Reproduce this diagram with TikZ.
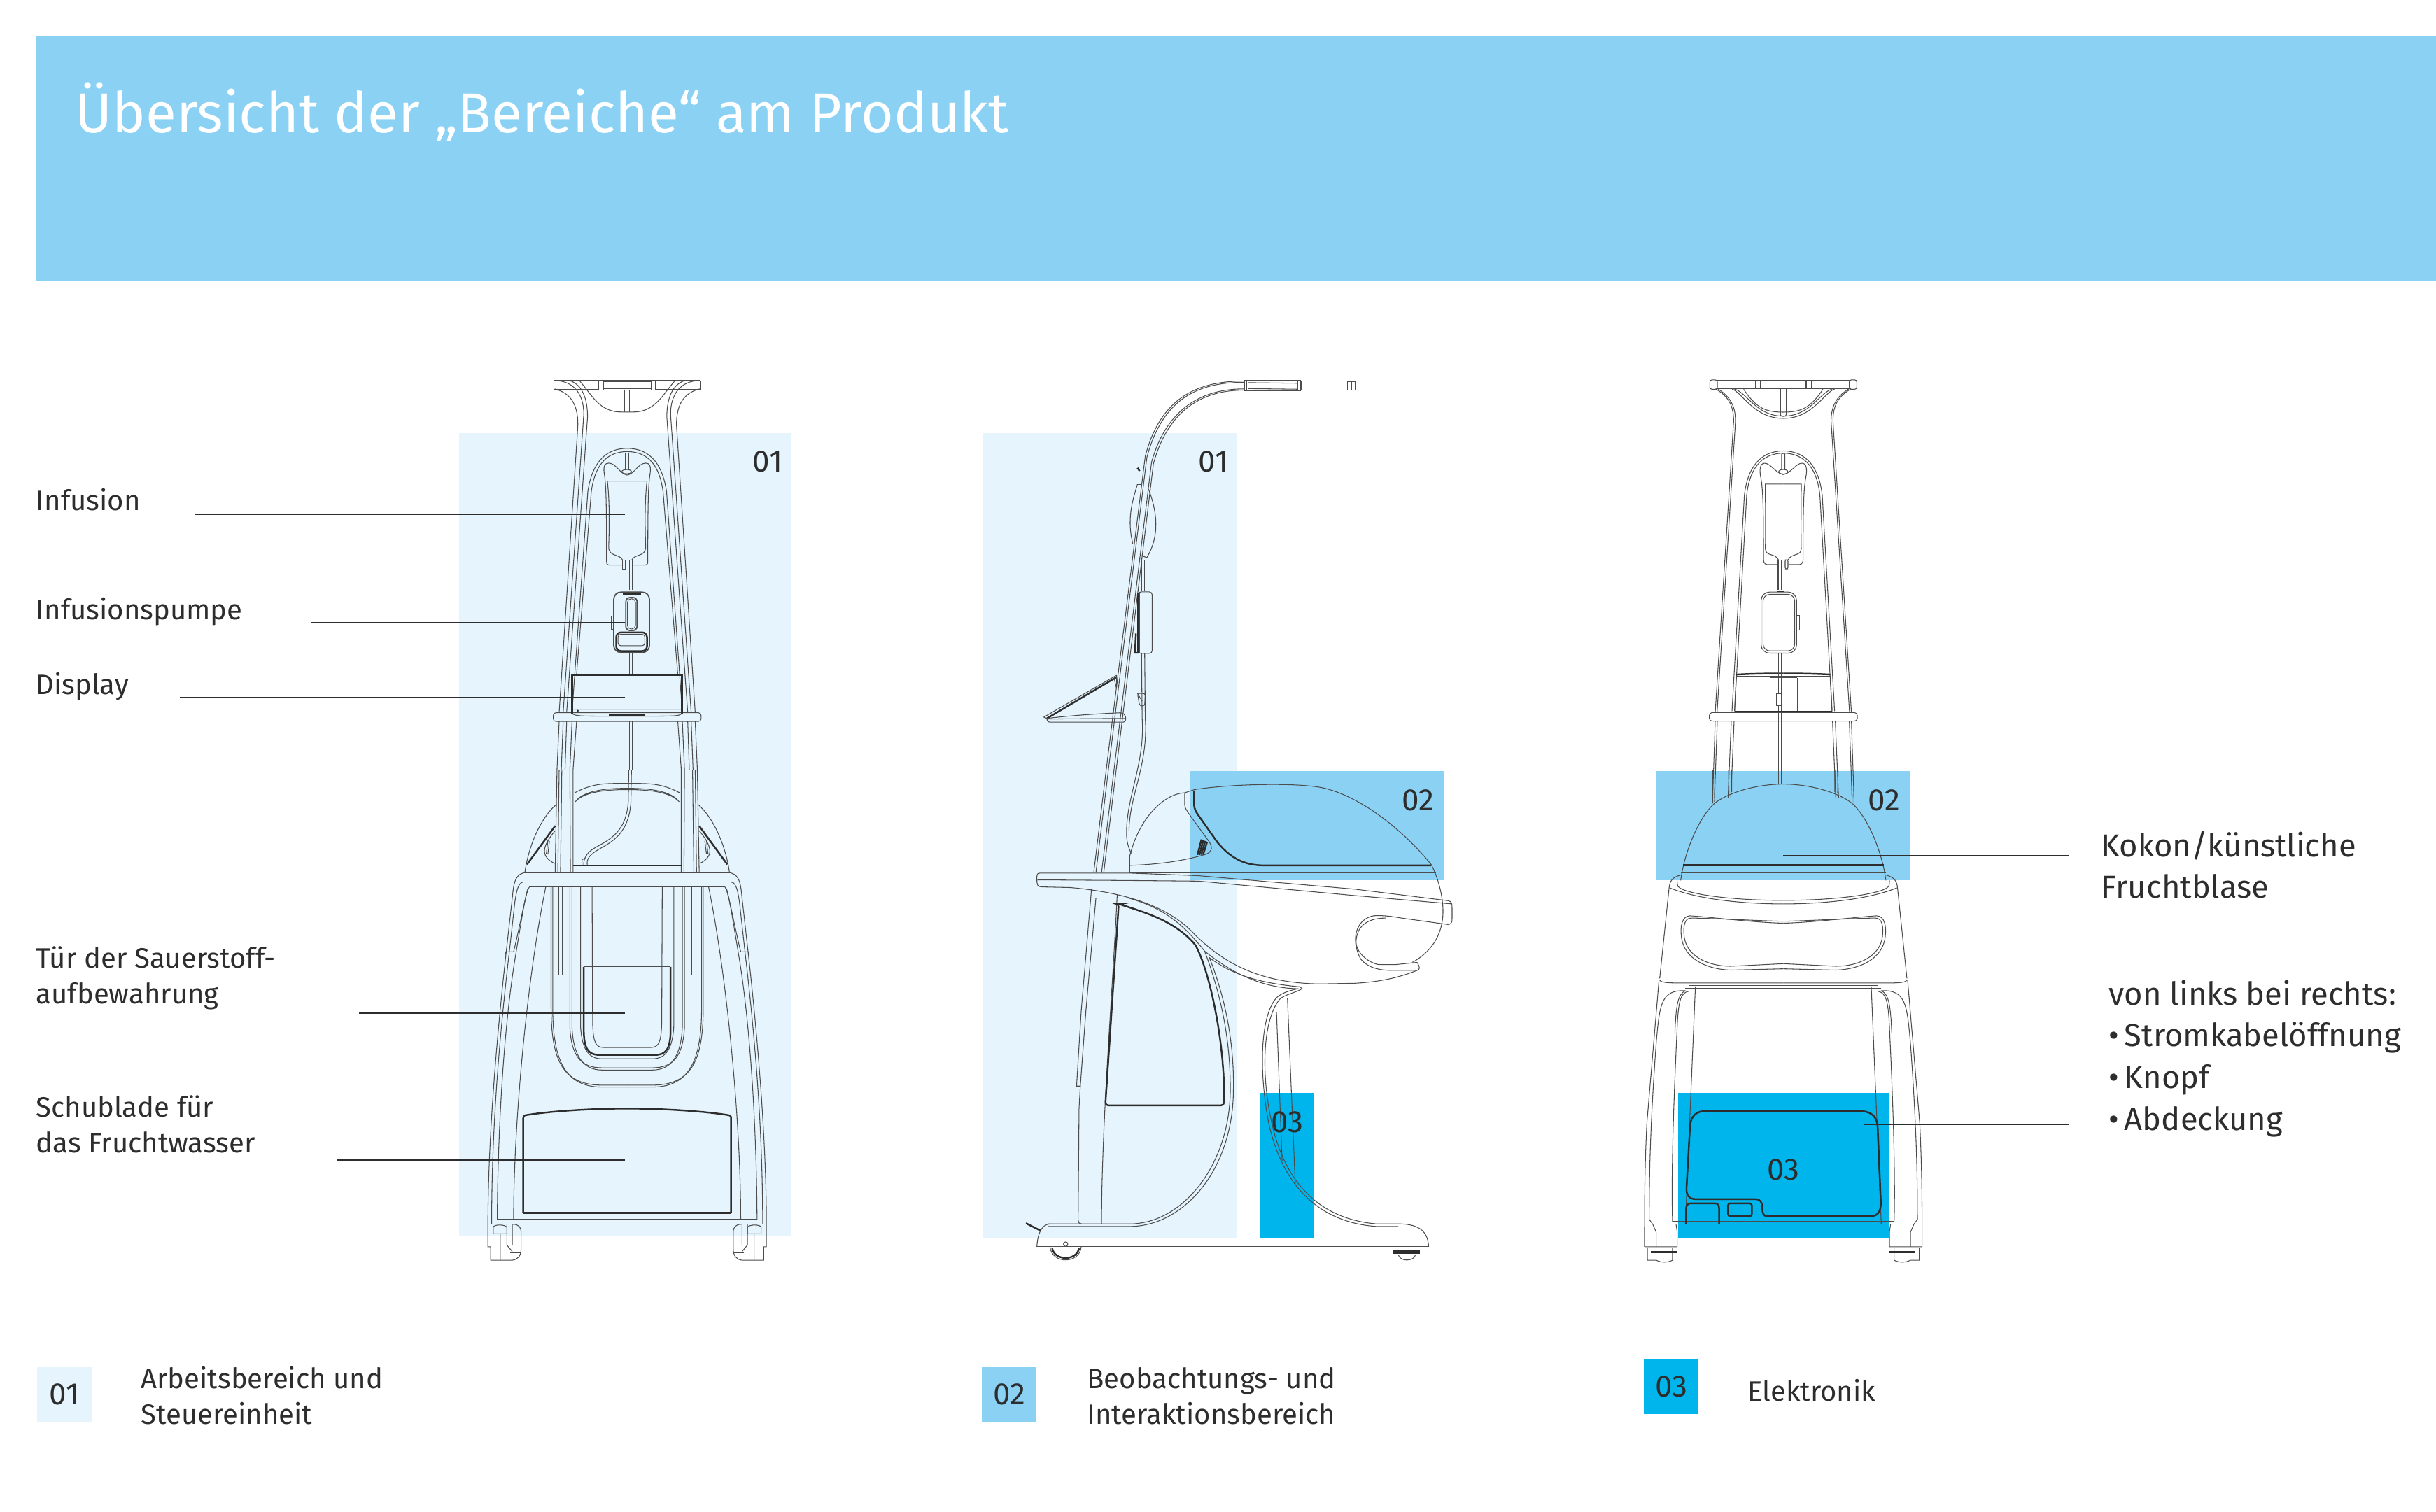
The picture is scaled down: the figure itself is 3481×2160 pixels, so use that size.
\documentclass[tikz,border=0pt]{standalone}
\usepackage{fontspec}
\setmainfont{Fira Sans}
\usetikzlibrary{positioning}
\definecolor{zoneone}{RGB}{229, 244, 253}
\definecolor{zonetwo}{RGB}{139, 209, 244}
\definecolor{zonethree}{RGB}{0, 181, 236}
\definecolor{inkdark}{RGB}{45, 45, 45}
\tikzset{
  wire/.style={draw=inkdark!85, line width=0.3pt},
  wirebold/.style={draw=inkdark, line width=0.7pt},
  leader/.style={draw=inkdark, line width=0.6pt},
  tag/.style={font=\fontsize{12.5}{15}\selectfont, text=inkdark, inner sep=0pt},
  caption/.style={font=\fontsize{11.4}{14.5}\selectfont, text=inkdark, anchor=west, align=left, inner sep=0pt},
  captionbig/.style={font=\fontsize{12.9}{17}\selectfont, text=inkdark, anchor=west, align=left, inner sep=0pt},
  keybox/.style={tag, minimum width=0.78cm, minimum height=0.78cm, fill=#1},
  viewAtop/.style={shift={(896.2,500)},xscale=#1*0.3827,yscale=0.3827,shift={(-774,0)}},
  viewAlow/.style={shift={(896.2,1100)},xscale=#1*0.3827,yscale=0.4591,shift={(-774,0)}},
  viewBtop/.style={shift={(1400,500)},scale=0.4464},
  viewBlow/.style={shift={(1400,1100)},xscale=0.4464,yscale=0.4591},
  viewCtop/.style={shift={(2548.3,500)},xscale=#1*0.3333,yscale=0.4082,shift={(-625,0)}},
  viewClow/.style={shift={(2548.3,1100)},xscale=#1*0.3333,yscale=0.4591,shift={(-625,0)}}
}
\begin{document}
\begin{tikzpicture}[x=0.01cm,y=-0.01cm]
\useasboundingbox (0,0) rectangle (3481,2160);

% Header
\fill[zonetwo] (51,51) rectangle (3481,402);
\node[font=\fontsize{22.8}{27}\selectfont, text=white, anchor=west, inner sep=0pt] (title) at (107,160) {Übersicht der „Bereiche“ am Produkt};

% Zones
\fill[zoneone] (656,619) rectangle (1131,1767);
\fill[zoneone] (1404,619) rectangle (1767,1769);
\fill[zonetwo] (1701,1102) rectangle (2064,1258);
\fill[zonethree] (1800,1562) rectangle (1877,1769);
\fill[zonetwo] (2367,1102) rectangle (2729,1258);
\fill[zonethree] (2398,1562) rectangle (2699,1769);

% Front view, mirrored halves
\foreach \s in {1,-1} {
  \begin{scope}[viewAtop=\s, wire]
    % Top of the pole
    \draw (503,146) .. controls (560,160) and (590,200) .. (590,280) -- (520,1355);
    \draw (510,115) .. controls (570,118) and (612,160) .. (612,240) -- (535,1355);
    \draw (560,115) .. controls (605,130) and (626,180) .. (626,250) -- (548,1355);
    \draw (500,115) -- (774,115) (500,148) -- (665,148) (500,115) -- (500,148);
    \draw (598,118) .. controls (640,165) and (670,232) .. (750,232) -- (774,232);
    \draw (668,115) -- (668,148) (685,115) -- (685,148) (685,118) -- (774,118) (685,145) -- (774,145);
    \draw (765,148) -- (765,232);
    % Inner arch
    \draw (774,368) .. controls (680,368) and (640,440) .. (627,530) -- (568,1355);
    \draw (774,380) .. controls (690,380) and (652,440) .. (640,530) -- (585,1213);
    \draw (585,1388) -- (572,1568) (568,1388) -- (560,1568);
    \draw (535,1388) -- (528,1568) (520,1388) -- (512,1568) (548,1388) -- (542,1568);
    % Bag
    \draw (774,468) .. controls (745,462) and (735,425) .. (705,423) .. controls (690,423) and (685,435) .. (688,460) .. controls (695,500) and (697,560) .. (697,790) .. controls (697,800) and (700,804) .. (710,804) -- (755,804);
    \draw (774,490) -- (700,490) .. controls (708,560) and (708,640) .. (705,735) .. controls (705,775) and (745,760) .. (757,785);
  \end{scope}
  \begin{scope}[viewAlow=\s, wire]
    \draw (512,0) -- (505,322) (520,0) -- (515,322) (530,0) -- (525,322);
    \draw (560,0) -- (562,322) (572,0) -- (572,322);
    % Hood behind the rail
    \draw (392,320) .. controls (405,240) and (450,150) .. (510,108);
    \draw[wirebold] (400,295) -- (505,175);
    \draw (505,190) .. controls (455,240) and (450,270) .. (503,292);
    \draw (472,262) -- (478,220) (478,262) -- (484,222);
    \draw (578,72) .. controls (650,40) and (700,43) .. (774,43);
    \draw (580,100) .. controls (610,72) and (680,62) .. (774,62) (585,95) .. controls (615,68) and (680,58) .. (774,58);
    \draw[wirebold] (572,298) -- (774,298);
    % Rim and flanks
    \draw (385,322) -- (774,322) (385,350) -- (774,350) (410,364) -- (774,364);
    \draw (385,322) .. controls (352,330) and (350,360) .. (345,400) -- (322,570) .. controls (285,850) and (255,1150) .. (254,1415);
    \draw (385,350) .. controls (365,352) and (360,385) .. (355,410) -- (335,560) .. controls (290,880) and (268,1150) .. (268,1415);
    \draw (410,364) .. controls (395,380) and (385,440) .. (355,590) .. controls (305,850) and (290,1200) .. (289,1400);
    \draw (403,370) .. controls (385,430) and (375,480) .. (350,567);
    \draw (470,365) .. controls (400,650) and (350,1100) .. (350,1400);
    \draw (318,578) -- (322,567) -- (355,567);
    % U-shaped recess
    \draw (490,365) -- (490,740) .. controls (490,900) and (530,982) .. (680,982) -- (774,982);
    \draw (496,365) -- (496,740) .. controls (496,895) and (535,988) .. (680,988) -- (774,988);
    \draw (560,365) -- (560,800) .. controls (565,890) and (600,928) .. (680,928) -- (774,928);
    \draw (568,365) -- (568,800) .. controls (572,885) and (605,935) .. (680,935) -- (774,935);
    \draw (600,365) -- (600,800) .. controls (605,870) and (630,900) .. (680,900) -- (774,900);
    \draw (643,365) -- (645,790) .. controls (648,850) and (655,865) .. (690,865) -- (774,865);
    \draw[wirebold] (612,614) -- (612,810) .. controls (612,870) and (630,888) .. (670,888) -- (774,888);
    \draw (612,614) -- (774,614);
    \draw (518,365) -- (518,640) -- (532,640) -- (532,365);
    % Drawer and base
    \draw[wirebold] (386,1380) -- (386,1085) .. controls (386,1078) and (390,1076) .. (400,1075) .. controls (500,1062) and (650,1055) .. (774,1055);
    \draw[wirebold] (386,1380) -- (774,1380);
    \draw (289,1400) -- (774,1400) (289,1415) -- (774,1415);
    % Caster
    \draw (254,1415) -- (254,1485) -- (264,1485) -- (264,1527) -- (345,1527) .. controls (365,1525) and (378,1515) .. (378,1490) -- (378,1440) .. controls (378,1425) and (370,1415) .. (345,1415);
    \draw (274,1445) -- (274,1425) .. controls (274,1415) and (320,1415) .. (325,1425) -- (325,1445) -- cycle;
    \draw (325,1415) -- (325,1480) -- (345,1500) (345,1415) -- (345,1480) (300,1445) -- (300,1527);
    \draw (335,1495) -- (365,1495) (338,1503) -- (380,1503) (338,1510) -- (365,1510);
  \end{scope}
}
\begin{scope}[viewAtop=1, wire]
  % Shelf and display
  \draw[rounded corners=0.04cm] (498,1355) rectangle (1050,1388);
  \draw (498,1378) -- (1050,1378);
  \draw[wirebold] (568,1358) -- (568,1215) -- (978,1215) -- (978,1358);
  \draw (568,1342) -- (978,1342) (568,1358) .. controls (580,1368) and (600,1368) .. (705,1368) -- (842,1368) .. controls (950,1368) and (970,1368) .. (978,1358);
  \draw[wirebold] (705,1364) -- (842,1364);
  \fill[inkdark] (590,1348) circle (4);
  % Hook, ports and tube
  \draw (768,385) -- (768,445) (780,385) -- (780,445) (768,385) -- (780,385);
  \draw (772,455) ellipse (18 and 8);
  \draw (757,785) rectangle (767,818);
  \draw (782,785) -- (782,895) (792,785) -- (792,895) (782,785) -- (792,785);
  \draw (782,1130) -- (782,1213) (792,1130) -- (792,1213) (782,1388) -- (782,1568) (792,1388) -- (792,1568);
  % Pump
  \draw[rounded corners=0.1cm, line width=0.5pt] (724,905) rectangle (857,1130);
  \draw[rounded corners=0.06cm, line width=0.5pt] (769,925) rectangle (811,1048);
  \draw[rounded corners=0.05cm] (775,930) rectangle (805,1042);
  \draw[wirebold, rounded corners=0.07cm] (733,1055) -- (733,1125) -- (848,1125) -- (848,1055) -- cycle;
  \draw[rounded corners=0.04cm] (740,1062) rectangle (840,1105);
  \fill[inkdark] (758,907) rectangle (825,915);
  \draw (714,995) rectangle (724,1045);
\end{scope}
\begin{scope}[viewAlow=1, wire]
  \draw (780,0) -- (778,100) .. controls (770,200) and (700,220) .. (650,245) .. controls (620,260) and (610,280) .. (612,298);
  \draw (790,0) -- (788,100) .. controls (780,210) and (700,230) .. (660,252) .. controls (630,268) and (622,280) .. (625,298);
  \draw (605,298) -- (605,280) -- (618,276);
\end{scope}

% Side view, upper part
\begin{scope}[viewBtop, wire]
  \draw (845,100) .. controls (700,100) and (580,150) .. (530,340) -- (405,1344) -- (365,1674);
  \draw (845,104) .. controls (700,104) and (585,155) .. (535,345) -- (412,1344) -- (372,1674);
  \draw (845,125) .. controls (720,125) and (600,180) .. (550,360) -- (430,1344) -- (390,1674);
  \draw (845,129) .. controls (720,129) and (605,185) .. (556,365) -- (437,1344) -- (397,1674);
  % Handle
  \draw (848,98) rectangle (1028,130);
  \draw (855,98) -- (855,130) (1018,98) -- (1018,130) (1030,100) rectangle (1178,128) (1030,122) -- (1178,122);
  \draw (858,105) -- (1018,107) (858,124) -- (1018,126);
  \draw (1178,102) rectangle (1202,128) (1190,102) -- (1190,128);
  % Bag and tube
  \draw (505,430) .. controls (490,480) and (470,540) .. (490,620);
  \draw (540,445) .. controls (565,510) and (580,590) .. (535,665) -- (515,658);
  \draw (505,432) -- (518,432);
  \draw[wirebold] (505,378) -- (512,388);
  \draw (518,675) -- (518,770) (528,675) -- (528,770);
  \draw[rounded corners=0.04cm] (507,775) rectangle (552,972);
  \draw (512,775) -- (512,972);
  \draw[wirebold] (500,908) -- (497,970) -- (507,970) (507,780) -- (507,970);
  \draw (518,972) -- (520,1180) .. controls (530,1320) and (470,1430) .. (470,1545) .. controls (470,1575) and (475,1590) .. (485,1612);
  \draw (528,972) -- (530,1180) .. controls (540,1330) and (478,1430) .. (478,1540);
  \draw[rounded corners=0.03cm] (505,1100) -- (530,1100) -- (528,1140) -- (512,1140) -- cycle;
  \draw (505,1100) -- (520,1125);
  % Tray
  \draw (205,1176) -- (438,1042);
  \draw[wirebold] (215,1180) -- (438,1048);
  \draw (430,1050) -- (438,1085) (438,1042) -- (438,1080);
  \draw (205,1176) -- (215,1180) .. controls (300,1170) and (380,1165) .. (450,1162) .. controls (470,1162) and (472,1190) .. (460,1192) -- (225,1192) .. controls (215,1192) and (215,1185) .. (215,1180);
  \draw (215,1182) -- (468,1180);
\end{scope}

% Side view, lower part
\begin{scope}[viewBlow, wire]
  % Hood
  \draw (480,322) -- (480,270) .. controls (510,150) and (590,75) .. (656,72) -- (688,62) .. controls (800,45) and (1000,40) .. (1090,55) .. controls (1200,75) and (1340,170) .. (1445,295) .. controls (1470,340) and (1483,400) .. (1483,440) .. controls (1483,520) and (1440,570) .. (1385,600);
  \draw[wirebold] (686,65) -- (686,105) .. controls (686,125) and (695,135) .. (700,142) -- (760,225) .. controls (810,285) and (860,298) .. (910,298) -- (1445,298);
  \draw (656,72) -- (656,105) .. controls (656,120) and (662,125) .. (668,135) -- (735,225) .. controls (748,245) and (740,258) .. (725,263) .. controls (650,285) and (570,295) .. (482,298);
  \foreach \h in {0,6,12,18} {\draw[wirebold] (697+\h,265) -- (710+\h,217+\h*0.4);}
  \draw (482,322) -- (1460,322) (482,328) -- (1460,328);
  % Table
  \draw (195,322) -- (480,322) -- (700,330) -- (1200,372) -- (1500,408) .. controls (1512,410) and (1512,420) .. (1512,430) -- (1512,465) .. controls (1512,480) and (1505,482) .. (1498,482) -- (1350,462) .. controls (1310,455) and (1280,453) .. (1260,455) .. controls (1205,465) and (1185,530) .. (1220,590) .. controls (1250,625) and (1300,625) .. (1330,625) -- (1400,625) .. controls (1410,622) and (1410,615) .. (1400,600) -- (1330,607) -- (1280,607) .. controls (1250,605) and (1200,570) .. (1205,530) .. controls (1210,480) and (1250,462) .. (1300,462);
  \draw (195,322) .. controls (183,322) and (183,325) .. (183,340) .. controls (183,360) and (185,365) .. (200,365) -- (290,367) .. controls (500,385) and (620,440) .. (690,515) .. controls (770,590) and (880,665) .. (1090,667) -- (1200,665) .. controls (1300,660) and (1360,640) .. (1400,625);
  \draw (185,343) -- (480,345) -- (700,347) -- (1200,392) -- (1512,418);
  \draw (470,398) .. controls (590,430) and (650,480) .. (720,565) .. controls (790,620) and (890,680) .. (1020,682);
  \draw (735,585) .. controls (810,640) and (900,665) .. (1025,676);
  % Door
  \draw (440,390) .. controls (425,700) and (390,1100) .. (390,1414);
  \draw[wirebold, rounded corners=0.04cm] (445,418) -- (402,1045) -- (782,1045) -- (782,985) .. controls (775,800) and (730,620) .. (690,545) .. controls (620,470) and (530,445) .. cycle;
  % Arc towards the base
  \draw (735,585) .. controls (790,720) and (815,860) .. (812,1000) .. controls (810,1250) and (650,1422) .. (480,1422) -- (220,1422);
  \draw (720,565) .. controls (780,720) and (803,860) .. (802,1000) .. controls (800,1230) and (650,1414) .. (480,1414) -- (220,1414);
  % Back
  \draw (358,370) -- (325,750) -- (310,985) -- (322,985) -- (318,1055) -- (315,1400) .. controls (316,1412) and (320,1414) .. (326,1414);
  \draw (372,400) -- (340,750) -- (322,985);
  % Base and front leg
  \draw (183,1485) -- (1437,1485);
  \draw (183,1485) .. controls (185,1450) and (195,1416) .. (225,1414);
  \draw (1437,1485) .. controls (1435,1440) and (1410,1414) .. (1340,1414) -- (1270,1414) .. controls (1100,1400) and (980,1300) .. (935,1100) .. controls (900,950) and (905,780) .. (960,715) .. controls (975,700) and (1010,695) .. (1032,682) -- (1025,676);
  \draw (1340,1422) -- (1270,1422) .. controls (1090,1410) and (970,1300) .. (925,1100) .. controls (895,950) and (895,770) .. (950,710) .. controls (965,695) and (1000,685) .. (1020,682);
  \draw (950,755) -- (968,1220) (985,712) -- (1010,1290);
  \draw[wirebold] (148,1412) -- (195,1435);
  % Wheel and foot
  \draw (275,1477) circle (7);
  \draw (225,1485) .. controls (230,1540) and (320,1540) .. (325,1485);
  \draw[wirebold] (232,1490) .. controls (240,1530) and (310,1530) .. (318,1490);
  \draw (1345,1485) -- (1345,1495) (1390,1485) -- (1390,1495);
  \fill[inkdark] (1325,1497) rectangle (1408,1507);
  \draw (1340,1510) .. controls (1345,1532) and (1390,1532) .. (1395,1510);
\end{scope}

% Rear view, mirrored halves
\foreach \s in {1,-1} {
  \begin{scope}[viewCtop=\s, wire]
    \draw[rounded corners=0.03cm] (310,105) rectangle (342,138);
    \draw (342,107) -- (505,107) (342,137) -- (505,137);
    \draw (505,107) -- (625,107) (505,137) -- (625,137) (505,107) -- (505,137) (527,107) -- (527,137);
    \draw (335,137) .. controls (395,165) and (412,200) .. (412,250) -- (333,1270);
    \draw (345,137) .. controls (400,165) and (420,200) .. (420,250) -- (341,1270);
    \draw (405,137) .. controls (450,150) and (500,240) .. (625,240);
    \draw (415,137) .. controls (470,150) and (510,232) .. (625,232);
    \draw (455,138) .. controls (510,205) and (550,218) .. (625,218);
    \draw (612,137) -- (612,225) .. controls (612,233) and (625,233) .. (625,233);
    \draw (333,1300) -- (322,1568) (342,1300) -- (330,1568);
    \draw (625,354) .. controls (520,354) and (470,420) .. (458,510) -- (405,1265);
    \draw (625,362) .. controls (525,362) and (478,425) .. (468,510) -- (416,1265);
    \draw (402,1300) -- (388,1568) (414,1300) -- (400,1568);
    % Bag
    \draw (625,437) .. controls (590,430) and (570,397) .. (545,397) .. controls (525,397) and (522,420) .. (528,445) .. controls (540,490) and (540,600) .. (540,730) .. controls (540,752) and (550,752) .. (565,752) -- (600,752);
    \draw (625,470) -- (548,470) .. controls (548,550) and (550,620) .. (548,695) .. controls (548,725) and (590,710) .. (604,735);
    \draw (618,365) -- (618,420) (625,362) -- (618,365);
    % Lower unit
    \draw[wirebold] (423,1137) .. controls (480,1134) and (560,1133) .. (625,1133);
    \draw (423,1143) -- (625,1143);
    \draw (423,1143) -- (416,1265);
    \draw[wirebold] (416,1266) -- (568,1266);
  \end{scope}
  \begin{scope}[viewClow=\s, wire]
    % Hood
    \draw (625,45) .. controls (500,45) and (380,75) .. (330,105) .. controls (260,150) and (200,260) .. (185,345);
    \draw (322,0) -- (322,105) (332,0) -- (330,100) (390,0) -- (392,72) (404,0) -- (404,70);
    % Body
    \draw (170,345) .. controls (170,365) and (170,365) .. (200,375) .. controls (300,400) and (500,407) .. (625,407);
    \draw (185,328) .. controls (150,335) and (138,345) .. (135,370) -- (95,650);
    \draw (138,368) .. controls (280,410) and (500,418) .. (625,418);
    \draw (625,478) .. controls (500,476) and (300,458) .. (225,455) .. controls (190,455) and (182,490) .. (188,520) .. controls (198,590) and (300,622) .. (400,624) -- (625,620);
    \draw (625,472) .. controls (500,470) and (300,462) .. (230,462) .. controls (200,462) and (195,490) .. (200,520) .. controls (210,580) and (300,612) .. (400,612) -- (625,604);
    \draw (95,655) .. controls (100,665) and (150,664) .. (215,664) -- (625,664);
    \draw (220,672) -- (625,672) (205,680) -- (625,680);
    % Legs
    \draw (92,655) -- (40,1100) .. controls (30,1250) and (30,1350) .. (30,1485);
    \draw (205,688) .. controls (100,685) and (95,730) .. (80,850) .. controls (55,1100) and (50,1250) .. (50,1400) -- (65,1415);
    \draw (218,690) .. controls (185,695) and (175,720) .. (170,800) .. controls (150,1100) and (145,1300) .. (150,1407);
    \draw (205,688) .. controls (170,700) and (165,740) .. (160,820);
    \draw (248,675) -- (205,1415);
    \draw (150,1407) -- (625,1407) (150,1415) -- (625,1415);
    % Foot
    \draw (65,1415) -- (80,1440) -- (80,1485) (165,1415) -- (170,1440) -- (170,1485) (30,1485) -- (170,1485);
    \draw (42,1490) -- (42,1527) -- (80,1527) .. controls (100,1535) and (130,1535) .. (150,1527) (150,1490) -- (150,1527);
    \fill[inkdark] (58,1498) rectangle (172,1506);
  \end{scope}
}
\begin{scope}[viewCtop=1, wire]
  % Handle, hook and tube
  \draw (527,107) -- (527,137) (725,107) -- (725,137);
  \draw (745,107) -- (745,137) (612,137) -- (612,225) (638,137) -- (638,225);
  \draw (625,427) ellipse (20 and 8);
  \draw (603,735) -- (603,840) (617,735) -- (617,840);
  \draw[rounded corners=0.02cm] (633,735) rectangle (645,767);
  \draw[rounded corners=0.12cm] (530,848) rectangle (682,1062);
  \draw[rounded corners=0.1cm] (538,856) rectangle (674,1054);
  \draw (682,930) rectangle (694,980);
  \fill[inkdark] (596,842) rectangle (628,848);
  \draw (604,1062) -- (604,1520) (616,1062) -- (616,1520);
  \draw[fill=white] (597,1204) rectangle (616,1245);
  % Lower unit and shelf
  \draw (568,1148) -- (568,1265) (685,1148) -- (685,1265) (568,1148) -- (685,1148);
  \draw[wirebold] (568,1266) -- (685,1266);
  \draw[rounded corners=0.04cm] (308,1270) rectangle (942,1300);
  \draw (308,1293) -- (942,1293);
\end{scope}
\begin{scope}[viewClow=1, wire]
  \draw[wirebold] (195,297) -- (1055,297);
  \draw (185,322) -- (1065,322);
  \draw[wirebold, rounded corners=0.03cm] (388,1350) rectangle (490,1390);
  \draw[wirebold] (208,1415) -- (208,1370) .. controls (208,1355) and (215,1350) .. (230,1350) -- (330,1350) .. controls (345,1350) and (350,1355) .. (350,1370) -- (350,1415);
  \draw[wirebold] (290,1063) -- (960,1063) .. controls (1010,1065) and (1030,1085) .. (1030,1120) -- (1043,1345) .. controls (1045,1380) and (1025,1390) .. (1000,1390) -- (555,1390) .. controls (540,1390) and (535,1380) .. (535,1365) .. controls (535,1345) and (525,1337) .. (505,1337) -- (250,1337) .. controls (220,1337) and (208,1325) .. (210,1300) -- (225,1110) .. controls (228,1080) and (250,1063) .. cycle;
\end{scope}

% Zone numbers
\node[tag] (frontone) at (1097,660) {01};
\node[tag] (sideone) at (1734,660) {01};
\node[tag] (sidetwo) at (2026,1144) {02};
\node[tag] (sidethree) at (1839,1604) {03};
\node[tag] (reartwo) at (2692,1144) {02};
\node[tag] (rearthree) at (2548,1672) {03};

% Labels and leader lines
\node[caption] (infusion) at (51,714) {Infusion};
\node[caption] (pump) at (51,874) {Infusionspumpe};
\node[caption] (display) at (51,981) {Display};
\node[caption] (door) at (51,1398) {Tür der Sauerstoff-\\aufbewahrung};
\node[caption] (drawer) at (51,1607) {Schublade für\\das Fruchtwasser};
\node[captionbig] (cocoon) at (3002,1236) {Kokon/künstliche\\Fruchtblase};
\node[captionbig] (rearparts) at (3013,1513) {von links bei rechts:\\•\,Stromkabelöffnung\\•\,Knopf\\•\,Abdeckung};

\foreach \name/\xa/\ya/\xb in {infusion/278/735/893, pump/444/890/893, display/257/997/893, door/513/1448/893, drawer/482/1658/893, cocoon/2548/1223/2957, cover/2663/1607/2957} {
  \coordinate (\name A) at (\xa,\ya);
  \coordinate (\name B) at (\xb,\ya);
  \draw[leader] (\name A) -- (\name B);
}

% Legend
\node[keybox=zoneone] (keyone) at (92,1993) {01};
\node[caption, right=0.69cm of keyone, yshift=-0.02cm] (keyonetext) {Arbeitsbereich und\\Steuereinheit};
\node[keybox=zonetwo] (keytwo) at (1442,1993) {02};
\node[caption, right=0.71cm of keytwo, yshift=-0.02cm] (keytwotext) {Beobachtungs- und\\Interaktionsbereich};
\node[keybox=zonethree] (keythree) at (2388,1982) {03};
\node[caption, right=0.69cm of keythree, yshift=-0.05cm] (keythreetext) {Elektronik};
\end{tikzpicture}
\end{document}
